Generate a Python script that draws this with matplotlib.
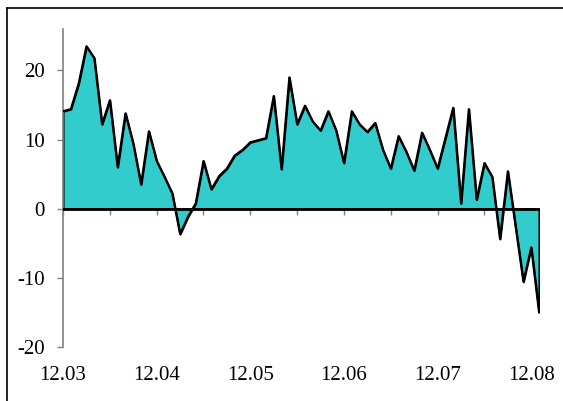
import matplotlib
matplotlib.use("Agg")
import matplotlib.pyplot as plt
from matplotlib.lines import Line2D
import numpy as np

values = [14.1, 14.4, 18.1, 23.5, 21.8, 12.2, 15.7, 6.0, 13.8, 9.4,
          3.5, 11.2, 6.9, 4.6, 2.2, -3.7, -1.2, 0.75, 6.9, 2.8,
          4.7, 5.8, 7.7, 8.5, 9.6, 9.9, 10.2, 16.3, 5.7, 19.0,
          12.2, 14.9, 12.6, 11.3, 14.1, 11.3, 6.6, 14.1, 12.2, 11.1,
          12.4, 8.5, 5.8, 10.5, 8.2, 5.5, 11.0, 8.5, 5.8, 10.2,
          14.6, 0.75, 14.4, 1.3, 6.6, 4.6, -4.4, 5.4, -2.6, -10.6,
          -5.6, -15.0]
month_labels = ["12.03", "12.04", "12.05", "12.06", "12.07", "12.08"]
label_step = 12
minor_step = 6
y_ticks = [-20, -10, 0, 10, 20]

plt.rcParams['font.family'] = ['Liberation Serif', 'DejaVu Serif']

W, H = 563, 401
fig = plt.figure(figsize=(W / 100, H / 100), dpi=100)
fig.patch.set_facecolor('white')

left, right, bottom, top = 63, 539, 346.7, 29
ax = fig.add_axes([left / W, (H - bottom) / H, (right - left) / W, (bottom - top) / H])

x = np.arange(len(values))
y = np.array(values)
ax.fill_between(x, y, 0, facecolor='#33CCCC', edgecolor='black', linewidth=1.5, zorder=2)
ax.plot(x, y, color='black', linewidth=1.5, zorder=3)

ax.set_xlim(0, len(values) - 1)
ax.set_ylim(-20, 26)

for s in ['top', 'right', 'bottom']:
    ax.spines[s].set_visible(False)
ax.spines['left'].set_color('#808080')
ax.spines['left'].set_linewidth(1.2)

ax.set_yticks(y_ticks)
ax.set_yticklabels([str(v) for v in y_ticks])
ax.tick_params(axis='y', direction='out', length=4, width=1, color='#808080',
               labelsize=15, pad=9)

# main x axis: labels only (at bottom)
ax.set_xticks(x[::label_step][:len(month_labels)])
ax.set_xticklabels(month_labels)
ax.tick_params(axis='x', length=0, labelsize=15, pad=14)

# secondary x axis at zero line for tick marks
zero_frac = (0 - (-20)) / (26 - (-20))
sec = ax.secondary_xaxis(zero_frac)
sec.set_xticks(x[::minor_step])
sec.set_xticklabels([])
sec.tick_params(axis='x', direction='out', length=4, width=1, color='#808080')
sec.spines['bottom'].set_visible(False)
sec.spines['top'].set_visible(False)
sec.xaxis.set_ticks_position('bottom')

ax.axhline(0, color='black', linewidth=2, zorder=4)

# figure frame (clipped at right and bottom)
fx = 7.5 / W
fy = 1 - 7.5 / H
fig.add_artist(Line2D([fx, fx], [0, fy], transform=fig.transFigure, color='black', linewidth=1.2))
fig.add_artist(Line2D([fx, 1], [fy, fy], transform=fig.transFigure, color='black', linewidth=1.2))

fig.savefig('out.png', dpi=100, facecolor='white')
